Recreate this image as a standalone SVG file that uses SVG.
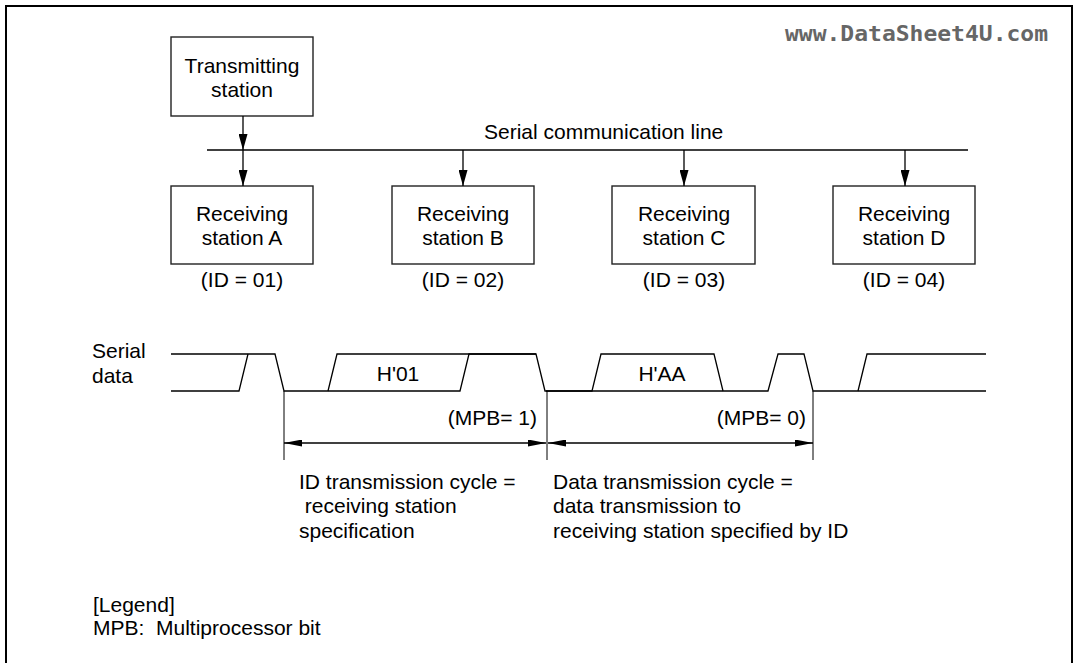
<svg xmlns="http://www.w3.org/2000/svg" width="1075" height="663" viewBox="0 0 1075 663">
<style>
text{font-family:"Liberation Sans",Arial,sans-serif;font-size:21px;fill:#000}
.box{fill:#fff;stroke:#222;stroke-width:1.4}
.ln{fill:none;stroke:#000;stroke-width:1.3}
.thin{fill:none;stroke:#000;stroke-width:1}
.mid{text-anchor:middle}
.end{text-anchor:end}
.wm{font-family:"DejaVu Sans Mono",monospace;font-weight:bold;font-size:21px;fill:#666}
</style>
<defs>
<marker id="ah" viewBox="0 0 16 9" refX="16" refY="4.5" markerWidth="16" markerHeight="9" markerUnits="userSpaceOnUse" orient="auto"><path d="M0,0 L16,4.5 L0,9 z" fill="#000"/></marker>
<marker id="dh" viewBox="0 0 18 7" refX="18" refY="3.5" markerWidth="18" markerHeight="7" markerUnits="userSpaceOnUse" orient="auto-start-reverse"><path d="M0,0 L18,3.5 L0,7 z" fill="#000"/></marker>
</defs>
<rect width="1075" height="663" fill="#fff"/>
<rect x="6" y="6" width="1066" height="720" fill="none" stroke="#000" stroke-width="2"/>
<text class="wm" x="785" y="41" textLength="263" lengthAdjust="spacingAndGlyphs">www.DataSheet4U.com</text>

<g id="transmitting">
<rect class="box" x="171" y="37" width="142" height="79"/>
<text class="mid" x="242" y="73">Transmitting</text>
<text class="mid" x="242" y="97">station</text>
</g>
<g id="bus">
<line class="ln" x1="207" y1="150" x2="968" y2="150"/>
<text x="484" y="139">Serial communication line</text>
</g>
<g id="rxA">
<rect class="box" x="171" y="186" width="142" height="78"/>
<text class="mid" x="242" y="221">Receiving</text>
<text class="mid" x="242" y="245">station A</text>
<text class="mid" x="242" y="287">(ID = 01)</text>
</g>
<g id="rxB">
<rect class="box" x="392" y="186" width="142" height="78"/>
<text class="mid" x="463" y="221">Receiving</text>
<text class="mid" x="463" y="245">station B</text>
<text class="mid" x="463" y="287">(ID = 02)</text>
</g>
<g id="rxC">
<rect class="box" x="612" y="186" width="143" height="78"/>
<text class="mid" x="684" y="221">Receiving</text>
<text class="mid" x="684" y="245">station C</text>
<text class="mid" x="684" y="287">(ID = 03)</text>
</g>
<g id="rxD">
<rect class="box" x="833" y="186" width="142" height="78"/>
<text class="mid" x="904" y="221">Receiving</text>
<text class="mid" x="904" y="245">station D</text>
<text class="mid" x="904" y="287">(ID = 04)</text>
</g>
<g id="connectors">
<line class="ln" x1="243" y1="116" x2="243" y2="150" marker-end="url(#ah)"/>
<line class="ln" x1="243" y1="150" x2="243" y2="186" marker-end="url(#ah)"/>
<line class="ln" x1="463" y1="150" x2="463" y2="186" marker-end="url(#ah)"/>
<line class="ln" x1="684" y1="150" x2="684" y2="186" marker-end="url(#ah)"/>
<line class="ln" x1="905" y1="150" x2="905" y2="186" marker-end="url(#ah)"/>
</g>
<g id="waveform">
<text x="92" y="358">Serial</text>
<text x="92" y="383">data</text>
<polyline class="ln" points="171,354 275,354 284,391 460,391 469,354 536,354 545,391 768,391 778,354 804,354 813,391 986,391"/>
<polyline class="ln" points="171,391 239,391 248,354"/>
<polyline class="ln" points="328,391 337,354 536,354"/>
<polyline class="ln" points="546,391 592,391 601,354 714,354 723,391"/>
<polyline class="ln" points="858,391 867,354 986,354"/>
<text class="mid" x="398" y="381">H'01</text>
<text class="mid" x="662" y="381">H'AA</text>
</g>
<g id="timing">
<line class="thin" x1="284" y1="391" x2="284" y2="460"/>
<line class="thin" x1="547" y1="391" x2="547" y2="460"/>
<line class="thin" x1="813" y1="391" x2="813" y2="460"/>
<line class="ln" x1="284" y1="443" x2="546" y2="443" marker-start="url(#dh)" marker-end="url(#dh)"/>
<line class="ln" x1="548" y1="443" x2="813" y2="443" marker-start="url(#dh)" marker-end="url(#dh)"/>
<text class="end" x="537" y="425">(MPB= 1)</text>
<text class="end" x="806" y="425">(MPB= 0)</text>
</g>
<g id="labels">
<text x="299" y="489">ID transmission cycle =</text>
<text x="299" y="513" xml:space="preserve"> receiving station</text>
<text x="299" y="538">specification</text>
<text x="553" y="489">Data transmission cycle =</text>
<text x="553" y="513">data transmission to</text>
<text x="553" y="538">receiving station specified by ID</text>
</g>
<g id="legend">
<text x="93" y="612">[Legend]</text>
<text x="93" y="635" xml:space="preserve">MPB:  Multiprocessor bit</text>
</g>
</svg>
